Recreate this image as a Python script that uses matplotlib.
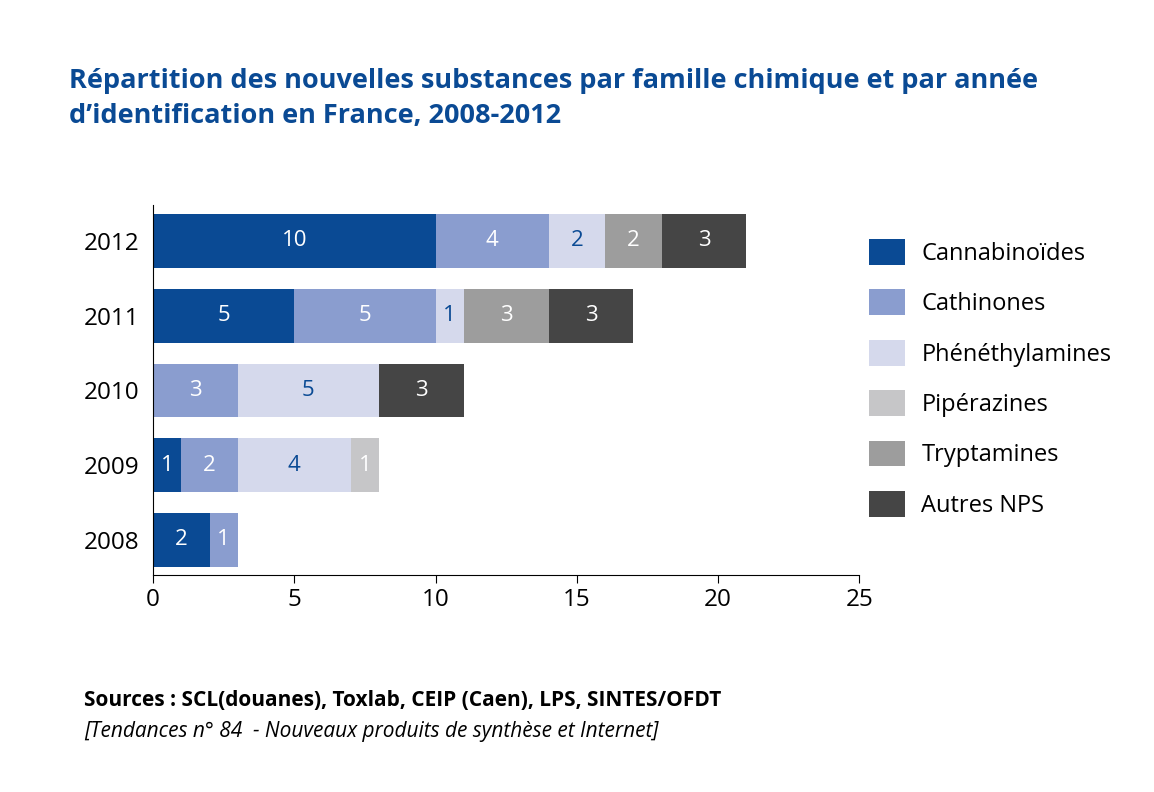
import numpy as np
import matplotlib.pyplot as plt
from matplotlib.patches import Patch

plt.rcParams['font.family'] = ['Open Sans', 'DejaVu Sans']

years = ["2008", "2009", "2010", "2011", "2012"]
families = ["Cannabinoïdes", "Cathinones", "Phénéthylamines", "Pipérazines", "Tryptamines", "Autres NPS"]
cannabinoides = [2, 1, 0, 5, 10]
cathinones = [1, 2, 3, 5, 4]
phenethylamines = [0, 4, 5, 1, 2]
piperazines = [0, 1, 0, 0, 0]
tryptamines = [0, 0, 0, 3, 2]
autres = [0, 0, 3, 3, 3]
series = [cannabinoides, cathinones, phenethylamines, piperazines, tryptamines, autres]

colors = ["#0a4a94", "#8a9dcf", "#d5d9ec", "#c6c6c8", "#9d9d9d", "#454545"]
label_colors = ["white", "white", "#0a4a94", "white", "white", "white"]
blue = "#0a4a94"

fig = plt.figure(figsize=(11.54, 7.92), dpi=100)
ax = fig.add_axes([0.1326, 0.274, 0.612, 0.467])

y = np.arange(len(years))
left = np.zeros(len(years))
for vals, col, lc in zip(series, colors, label_colors):
    vals = np.array(vals)
    ax.barh(y, vals, left=left, height=0.72, color=col, edgecolor='none')
    for yi, (l, v) in enumerate(zip(left, vals)):
        if v > 0:
            ax.text(l + v / 2, yi, str(v), ha='center', va='center', color=lc, fontsize=16)
    left += vals

ax.set_xlim(0, 25)
ax.set_ylim(-0.47, 4.48)
ax.set_xticks([0, 5, 10, 15, 20, 25])
ax.set_yticks(y)
ax.set_yticklabels(years)
ax.tick_params(labelsize=17.5, length=6)
ax.tick_params(axis='y', length=0, pad=10)
for s in ['top', 'right']:
    ax.spines[s].set_visible(False)

handles = [Patch(facecolor=c, label=f) for c, f in zip(colors, families)]
fig.legend(handles=handles, loc='upper left', bbox_to_anchor=(0.735, 0.725), frameon=False,
           fontsize=17, handlelength=1.5, handleheight=1.3, labelspacing=1.0, handletextpad=0.7)

fig.text(0.06, 0.875, "Répartition des nouvelles substances par famille chimique et par année\n"
         "d’identification en France, 2008-2012", color=blue, fontsize=19.5, fontweight='bold',
         va='center', linespacing=1.45)
fig.text(0.073, 0.115, "Sources : SCL(douanes), Toxlab, CEIP (Caen), LPS, SINTES/OFDT",
         fontsize=15, fontweight='bold', va='center')
fig.text(0.073, 0.077, "[Tendances n° 84  - Nouveaux produits de synthèse et Internet]",
         fontsize=15, style='italic', va='center')

fig.savefig("out.png", dpi=100)
